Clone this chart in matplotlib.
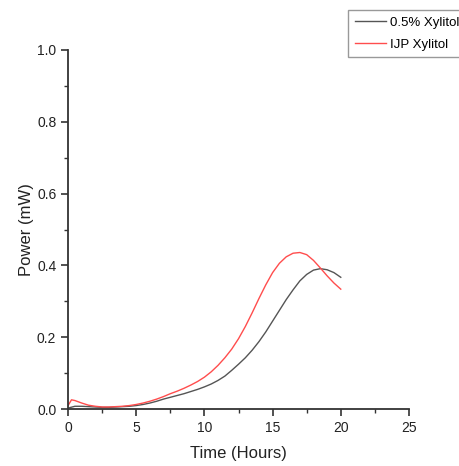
import numpy as np
import matplotlib.pyplot as plt
from matplotlib.ticker import MultipleLocator

plt.rcParams['font.family'] = ['Liberation Sans', 'DejaVu Sans']

# time (hours) and power (mW)
t_black = [0, 0.5, 1.0, 1.5, 2.0, 2.5, 3.0, 3.5, 4.0, 4.5, 5.0, 5.5, 6.0, 6.5, 7.0,
           7.5, 8.0, 8.5, 9.0, 9.5, 10.0, 10.5, 11.0, 11.5, 12.0, 12.5, 13.0, 13.5,
           14.0, 14.5, 15.0, 15.5, 16.0, 16.5, 17.0, 17.5, 18.0, 18.5, 19.0, 19.5, 20.0]
p_black = [0.003, 0.008, 0.008, 0.007, 0.006, 0.005, 0.005, 0.006, 0.007, 0.008,
           0.010, 0.013, 0.017, 0.022, 0.028, 0.033, 0.038, 0.043, 0.049, 0.055,
           0.062, 0.070, 0.080, 0.092, 0.108, 0.125, 0.143, 0.164, 0.188, 0.215,
           0.245, 0.275, 0.305, 0.332, 0.357, 0.375, 0.387, 0.391, 0.388, 0.380, 0.367]

t_red = [0, 0.25, 0.5, 1.0, 1.5, 2.0, 2.5, 3.0, 3.5, 4.0, 4.5, 5.0, 5.5, 6.0, 6.5,
         7.0, 7.5, 8.0, 8.5, 9.0, 9.5, 10.0, 10.5, 11.0, 11.5, 12.0, 12.5, 13.0,
         13.5, 14.0, 14.5, 15.0, 15.5, 16.0, 16.5, 17.0, 17.5, 18.0, 18.5, 19.0,
         19.5, 20.0]
p_red = [0.010, 0.026, 0.024, 0.017, 0.011, 0.008, 0.006, 0.006, 0.007, 0.008,
         0.010, 0.013, 0.017, 0.022, 0.028, 0.035, 0.043, 0.050, 0.058, 0.067,
         0.077, 0.089, 0.104, 0.122, 0.143, 0.167, 0.196, 0.230, 0.268, 0.308,
         0.346, 0.380, 0.406, 0.424, 0.434, 0.436, 0.430, 0.414, 0.393, 0.371,
         0.351, 0.334]

fig = plt.figure(figsize=(4.6, 4.66), dpi=100)
ax = fig.add_axes([0.148, 0.122, 0.741, 0.771])

ax.plot(t_black, p_black, color='#555555', lw=1.0, label='0.5% Xylitol')
ax.plot(t_red, p_red, color='#ff4d4d', lw=1.0, label='IJP Xylitol')

ax.set_xlim(0, 25)
ax.set_ylim(0, 1.0)
ax.xaxis.set_major_locator(MultipleLocator(5))
ax.xaxis.set_minor_locator(MultipleLocator(2.5))
ax.yaxis.set_major_locator(MultipleLocator(0.2))
ax.yaxis.set_minor_locator(MultipleLocator(0.1))
ax.yaxis.set_major_formatter(plt.FormatStrFormatter('%.1f'))

for s in ['top', 'right']:
    ax.spines[s].set_visible(False)
for s in ['left', 'bottom']:
    ax.spines[s].set_linewidth(1.3)
    ax.spines[s].set_color('#333333')
ax.tick_params(which='major', direction='out', length=5, width=1.2,
               colors='#333333', labelsize=10, labelcolor='#222222')
ax.tick_params(which='minor', direction='out', length=3, width=1.0, colors='#333333')

ax.set_xlabel('Time (Hours)', fontsize=12, color='#222222', labelpad=8)
ax.set_ylabel('Power (mW)', fontsize=12, color='#222222', labelpad=2)

leg = fig.legend(loc='upper left', bbox_to_anchor=(0.757, 0.979), fontsize=9.5,
                 fancybox=False, framealpha=1, edgecolor='#999999',
                 handlelength=2.4, handletextpad=0.3, borderpad=0.5,
                 labelspacing=0.75, borderaxespad=0)
leg.get_frame().set_linewidth(1.0)

fig.savefig('out.png', dpi=100)
